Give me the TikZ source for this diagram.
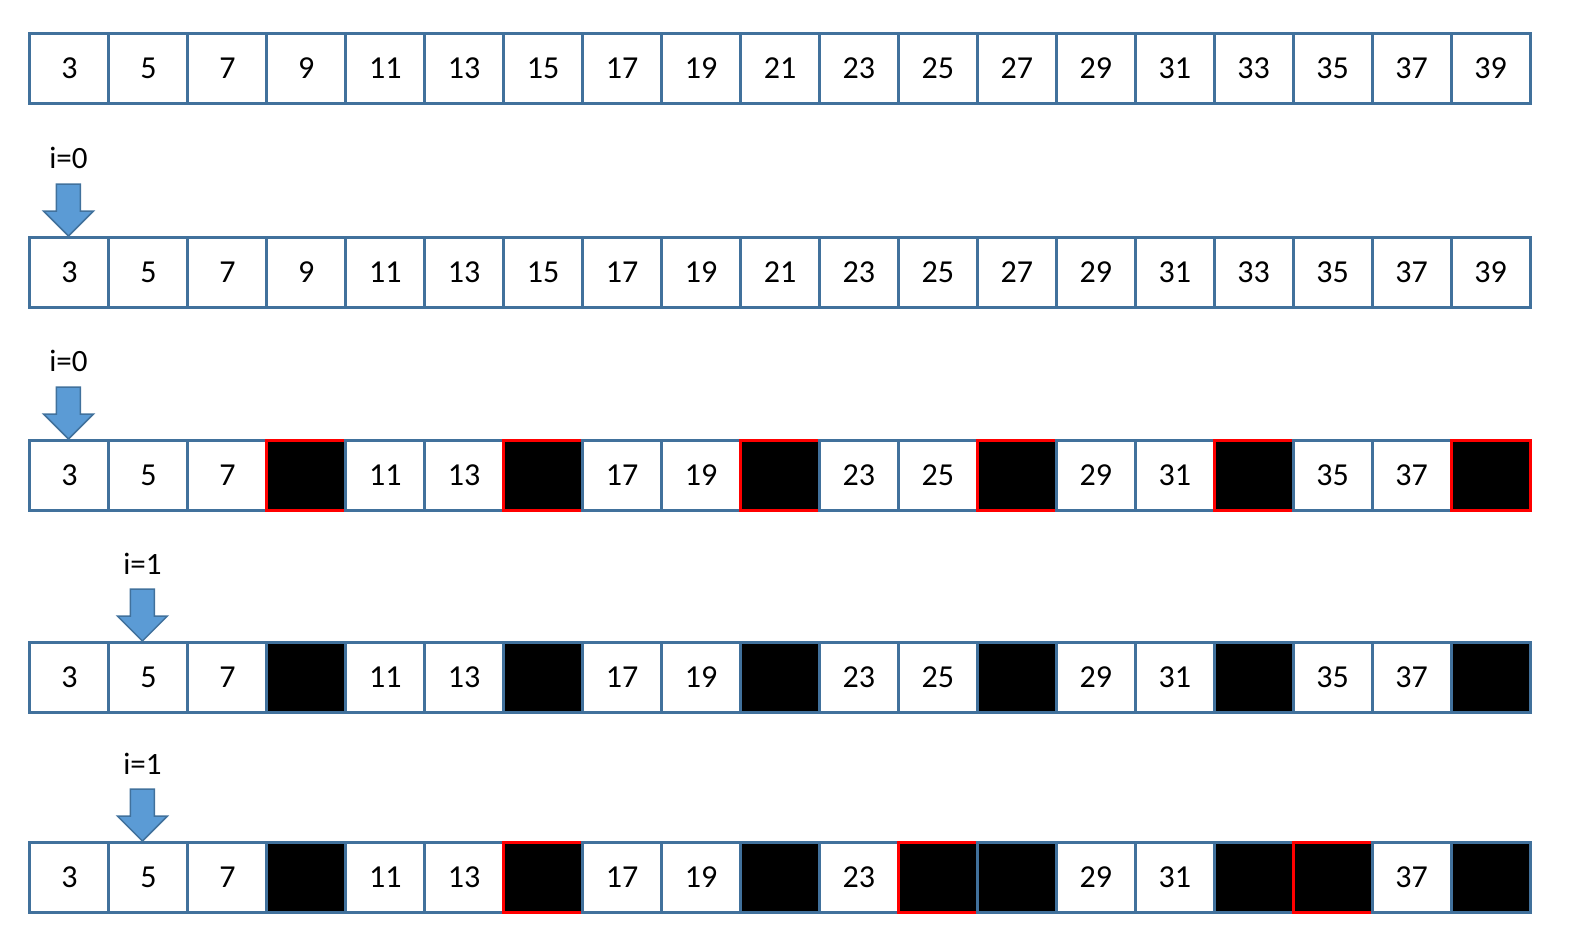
\documentclass[tikz,border=0pt]{standalone}
\usepackage{fontspec}
\setmainfont{Carlito}
\usetikzlibrary{calc}
\definecolor{cellblue}{HTML}{41719C}
\definecolor{arrowfill}{HTML}{5B9BD5}
\begin{document}
\begin{tikzpicture}[x=1pt,y=-1pt]
\useasboundingbox (0,0) rectangle (1570,930);
\tikzset{
  cell/.style={draw=cellblue,line width=3pt,minimum width=78.95pt,minimum height=70pt,inner sep=0pt,font=\fontsize{32}{38}\selectfont},
  blk/.style={cell,fill=black},
  redblk/.style={cell,fill=black,draw=red},
  lbl/.style={font=\fontsize{31}{37}\selectfont,inner sep=0pt},
  ptr/.style={fill=arrowfill,draw=cellblue,line width=1.5pt,line join=miter}
}
\newcommand{\ptrdown}[1]{\draw[ptr] ($#1$) ++(-12,-52) -- ++(24,0) -- ++(0,27) -- ++(13,0) -- ++(-25,25) -- ++(-25,-25) -- ++(13,0) -- cycle;}
% row 1
\foreach \v [count=\i from 0] in {3,5,7,9,11,13,15,17,19,21,23,25,27,29,31,33,35,37,39}
  \node[cell] (ra\i) at ({30+78.947*(\i+0.5)},68) {\v};
% row 2
\foreach \v [count=\i from 0] in {3,5,7,9,11,13,15,17,19,21,23,25,27,29,31,33,35,37,39}
  \node[cell] (rb\i) at ({30+78.947*(\i+0.5)},272.5) {\v};
% row 3
\foreach \v/\s [count=\i from 0] in {3/cell,5/cell,7/cell,{}/redblk,11/cell,13/cell,{}/redblk,17/cell,19/cell,{}/redblk,23/cell,25/cell,{}/redblk,29/cell,31/cell,{}/redblk,35/cell,37/cell,{}/redblk}
  \node[\s] (rc\i) at ({30+78.947*(\i+0.5)},475.5) {\v};
% row 4
\foreach \v/\s [count=\i from 0] in {3/cell,5/cell,7/cell,{}/blk,11/cell,13/cell,{}/blk,17/cell,19/cell,{}/blk,23/cell,25/cell,{}/blk,29/cell,31/cell,{}/blk,35/cell,37/cell,{}/blk}
  \node[\s] (rd\i) at ({30+78.947*(\i+0.5)},677.5) {\v};
% row 5
\foreach \v/\s [count=\i from 0] in {3/cell,5/cell,7/cell,{}/blk,11/cell,13/cell,{}/redblk,17/cell,19/cell,{}/blk,23/cell,{}/redblk,{}/blk,29/cell,31/cell,{}/blk,{}/redblk,37/cell,{}/blk}
  \node[\s] (re\i) at ({30+78.947*(\i+0.5)},877.5) {\v};
% pointers
\ptrdown{(rb0.north)+(-1,0)}
\ptrdown{(rc0.north)+(-1,0)}
\ptrdown{(rd1.north)+(-6,0)}
\ptrdown{(re1.north)+(-6,0)}
\node[lbl] (lb) at ($(rb0.north)+(-1,-78)$) {i=0};
\node[lbl] (lc) at ($(rc0.north)+(-1,-78)$) {i=0};
\node[lbl] (ld) at ($(rd1.north)+(-6,-77)$) {i=1};
\node[lbl] (le) at ($(re1.north)+(-6,-77)$) {i=1};
\end{tikzpicture}
\end{document}
